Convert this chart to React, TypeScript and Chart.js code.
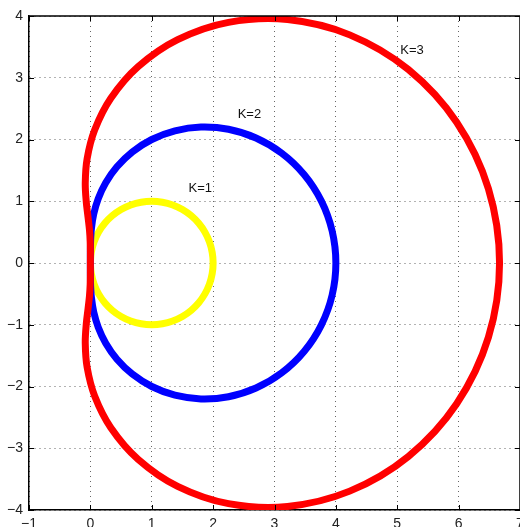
import React, { useEffect, useRef } from 'react';
import { Chart, registerables } from 'chart.js';

Chart.register(...registerables);

// K=1 boundary
const k1X = [0, 0.0152, 0.0603, 0.134, 0.234, 0.3572, 0.5, 0.658, 0.8264, 1, 1.1736, 1.342, 1.5, 1.6428, 1.766, 1.866, 1.9397, 1.9848, 2,
  1.9848, 1.9397, 1.866, 1.766, 1.6428, 1.5, 1.342, 1.1736, 1, 0.8264, 0.658, 0.5, 0.3572, 0.234, 0.134, 0.0603, 0.0152, 0];
const k1Y = [0, 0.1736, 0.342, 0.5, 0.6428, 0.766, 0.866, 0.9397, 0.9848, 1, 0.9848, 0.9397, 0.866, 0.766, 0.6428, 0.5, 0.342, 0.1736, 0,
  -0.1736, -0.342, -0.5, -0.6428, -0.766, -0.866, -0.9397, -0.9848, -1, -0.9848, -0.9397, -0.866, -0.766, -0.6428, -0.5, -0.342, -0.1736, 0];

// K=2 boundary
const k2X = [0, 0.0002, 0.0036, 0.0179, 0.0547, 0.1276, 0.25, 0.4329, 0.6829, 1, 1.3774, 1.801, 2.25, 2.6988, 3.1189, 3.4821, 3.7624, 3.9395, 4,
  3.9395, 3.7624, 3.4821, 3.1189, 2.6988, 2.25, 1.801, 1.3774, 1, 0.6829, 0.4329, 0.25, 0.1276, 0.0547, 0.0179, 0.0036, 0.0002, 0];
const k2Y = [0, 0.1763, 0.3626, 0.567, 0.7932, 1.0397, 1.299, 1.558, 1.7986, 2, 2.1406, 2.2008, 2.1651, 2.0245, 1.778, 1.433, 1.0054, 0.5183, 0,
  -0.5183, -1.0054, -1.433, -1.778, -2.0245, -2.1651, -2.2008, -2.1406, -2, -1.7986, -1.558, -1.299, -1.0397, -0.7932, -0.567, -0.3626, -0.1763, 0];

// K=3 boundary
const k3X = [0, -0.0002, -0.0033, -0.0147, -0.0377, -0.0668, -0.0833, -0.0531, 0.0695, 0.3333, 0.7781, 1.4217, 2.25, 3.2126, 4.2253, 5.1814, 5.9681, 6.486, 6.6667,
  6.486, 5.9681, 5.1814, 4.2253, 3.2126, 2.25, 1.4217, 0.7781, 0.3333, 0.0695, -0.0531, -0.0833, -0.0668, -0.0377, -0.0147, -0.0033, -0.0002, 0];
const k3Y = [0, 0.1746, 0.3506, 0.5343, 0.7398, 0.9876, 1.299, 1.6882, 2.1527, 2.6667, 3.1788, 3.6166, 3.8971, 3.942, 3.6943, 3.1324, 2.2789, 1.2006, 0,
  -1.2006, -2.2789, -3.1324, -3.6943, -3.942, -3.8971, -3.6166, -3.1788, -2.6667, -2.1527, -1.6882, -1.299, -0.9876, -0.7398, -0.5343, -0.3506, -0.1746, 0];

const xTicks = [-1, 0, 1, 2, 3, 4, 5, 6, 7];
const yTicks = [-4, -3, -2, -1, 0, 1, 2, 3, 4];

const labelTexts = ['K=1', 'K=2', 'K=3'];
const labelX = [1.6, 2.4, 5.05];
const labelY = [1.2, 2.4, 3.45];

const fmt = (v: any) => {
  const n = Number(v);
  return n < 0 ? '\u2212' + Math.abs(n) : String(n);
};

const framePlugin = {
  id: 'frame',
  afterDraw(chart: any) {
    const { ctx, chartArea } = chart;
    const { left, right, top, bottom } = chartArea;
    const xs = chart.scales.x;
    const ys = chart.scales.y;
    ctx.save();
    ctx.strokeStyle = '#000';
    ctx.lineWidth = 1.5;
    ctx.beginPath();
    ctx.moveTo(left, top);
    ctx.lineTo(right, top);
    ctx.lineTo(right, bottom);
    ctx.stroke();
    ctx.lineWidth = 1;
    const tl = 5;
    xs.ticks.forEach((t: any) => {
      const px = Math.round(xs.getPixelForValue(t.value)) + 0.5;
      ctx.beginPath();
      ctx.moveTo(px, bottom);
      ctx.lineTo(px, bottom - tl);
      ctx.moveTo(px, top);
      ctx.lineTo(px, top + tl);
      ctx.stroke();
    });
    ys.ticks.forEach((t: any) => {
      const py = Math.round(ys.getPixelForValue(t.value)) + 0.5;
      ctx.beginPath();
      ctx.moveTo(left, py);
      ctx.lineTo(left + tl, py);
      ctx.moveTo(right, py);
      ctx.lineTo(right - tl, py);
      ctx.stroke();
    });
    ctx.fillStyle = '#111';
    ctx.font = '13px "Liberation Sans", Arial, sans-serif';
    ctx.textAlign = 'left';
    ctx.textBaseline = 'middle';
    labelTexts.forEach((s, i) => {
      ctx.fillText(s, xs.getPixelForValue(labelX[i]), ys.getPixelForValue(labelY[i]));
    });
    ctx.restore();
  },
};

export default function App() {
  const ref = useRef<HTMLCanvasElement>(null);
  useEffect(() => {
    if (!ref.current) return;
    const toPts = (xs: number[], ys: number[]) => xs.map((x, i) => ({ x, y: ys[i] }));
    const common = { showLine: true, pointRadius: 0, borderWidth: 7, tension: 0.35, fill: false };
    const axisCommon = (ticksArr: number[], isX: boolean) => ({
      type: 'linear' as const,
      min: ticksArr[0],
      max: ticksArr[ticksArr.length - 1],
      afterBuildTicks: (s: any) => {
        s.ticks = ticksArr.map((v) => ({ value: v }));
      },
      afterFit: (s: any) => {
        if (isX) s.height = 17;
        else s.width = 29;
      },
      grid: { color: 'rgba(0,0,0,0.6)', lineWidth: 1, drawTicks: false },
      border: { display: true, color: '#000', width: 1.5, dash: [1, 4] },
      ticks: {
        padding: 6,
        color: '#222',
        font: { family: '"Liberation Sans", Arial, sans-serif', size: 14 },
        callback: fmt,
        maxRotation: 0,
        autoSkip: false,
      },
    });
    const chart = new Chart(ref.current, {
      type: 'scatter',
      data: {
        datasets: [
          { label: 'K=1', data: toPts(k1X, k1Y), borderColor: '#ffff00', backgroundColor: '#ffff00', order: 3, ...common },
          { label: 'K=2', data: toPts(k2X, k2Y), borderColor: '#0000ff', backgroundColor: '#0000ff', order: 2, ...common },
          { label: 'K=3', data: toPts(k3X, k3Y), borderColor: '#ff0000', backgroundColor: '#ff0000', order: 1, ...common },
        ],
      },
      options: {
        animation: false,
        responsive: false,
        devicePixelRatio: 1,
        events: [],
        layout: { padding: { top: 16, right: 40, left: 0, bottom: 0 } },
        plugins: { legend: { display: false }, tooltip: { enabled: false } },
        scales: {
          x: axisCommon(xTicks, true),
          y: axisCommon(yTicks, false),
        },
      },
      plugins: [framePlugin],
    } as any);
    return () => chart.destroy();
  }, []);
  return (
    <div style={{ position: 'fixed', left: 0, top: 0, width: 520, height: 527, overflow: 'hidden', background: '#fff' }}>
      <canvas ref={ref} width={560} height={527} style={{ display: 'block', width: 560, height: 527 }} />
    </div>
  );
}
